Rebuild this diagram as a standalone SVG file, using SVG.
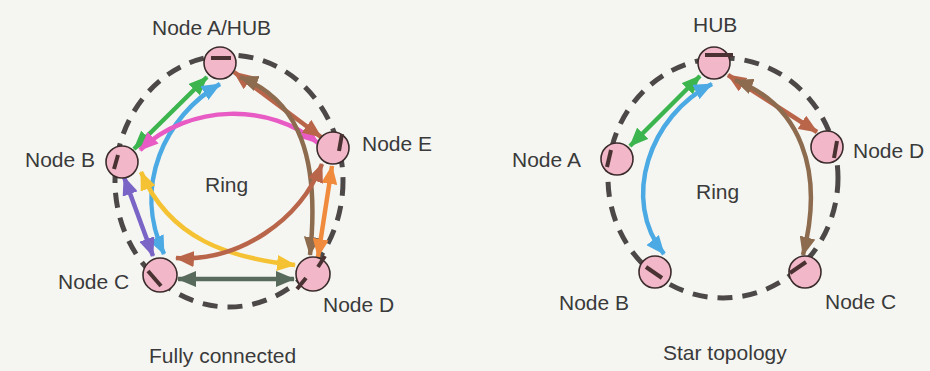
<svg xmlns="http://www.w3.org/2000/svg" width="930" height="371" viewBox="0 0 930 371">
<style>
.lbl{font-family:"Liberation Sans",Arial,sans-serif;font-size:21px;fill:#3a3a3a}
.ring{fill:none;stroke:#4d4848;stroke-width:5;stroke-dasharray:15 10}
.node{fill:#f2b8c9;stroke:#3b2c2c;stroke-width:1.6}
.mark{stroke:#4a3232;stroke-width:4;stroke-linecap:butt}
.c{fill:none;stroke-width:4.5}
</style>
<defs>
<marker id="mGreen" viewBox="0 0 19 16" refX="18" refY="8" markerWidth="19" markerHeight="16" markerUnits="userSpaceOnUse" orient="auto-start-reverse"><path d="M0,0 L19,8 L0,16 z" fill="#3cb54e"/></marker>
<marker id="mBlue" viewBox="0 0 19 16" refX="18" refY="8" markerWidth="19" markerHeight="16" markerUnits="userSpaceOnUse" orient="auto-start-reverse"><path d="M0,0 L19,8 L0,16 z" fill="#4ba9e3"/></marker>
<marker id="mPink" viewBox="0 0 19 16" refX="18" refY="8" markerWidth="19" markerHeight="16" markerUnits="userSpaceOnUse" orient="auto-start-reverse"><path d="M0,0 L19,8 L0,16 z" fill="#e95bc4"/></marker>
<marker id="mRust" viewBox="0 0 19 16" refX="18" refY="8" markerWidth="19" markerHeight="16" markerUnits="userSpaceOnUse" orient="auto-start-reverse"><path d="M0,0 L19,8 L0,16 z" fill="#b9654a"/></marker>
<marker id="mBrown" viewBox="0 0 19 16" refX="18" refY="8" markerWidth="19" markerHeight="16" markerUnits="userSpaceOnUse" orient="auto-start-reverse"><path d="M0,0 L19,8 L0,16 z" fill="#8d6b4e"/></marker>
<marker id="mOrange" viewBox="0 0 19 16" refX="18" refY="8" markerWidth="19" markerHeight="16" markerUnits="userSpaceOnUse" orient="auto-start-reverse"><path d="M0,0 L19,8 L0,16 z" fill="#f08a3c"/></marker>
<marker id="mPurple" viewBox="0 0 19 16" refX="18" refY="8" markerWidth="19" markerHeight="16" markerUnits="userSpaceOnUse" orient="auto-start-reverse"><path d="M0,0 L19,8 L0,16 z" fill="#7a64c6"/></marker>
<marker id="mYellow" viewBox="0 0 19 16" refX="18" refY="8" markerWidth="19" markerHeight="16" markerUnits="userSpaceOnUse" orient="auto-start-reverse"><path d="M0,0 L19,8 L0,16 z" fill="#f4c233"/></marker>
<marker id="mGray" viewBox="0 0 19 16" refX="18" refY="8" markerWidth="19" markerHeight="16" markerUnits="userSpaceOnUse" orient="auto-start-reverse"><path d="M0,0 L19,8 L0,16 z" fill="#586a5b"/></marker>
</defs>
<rect width="930" height="371" fill="#f5f6f2"/>

<g id="rings">
<ellipse class="ring" cx="229" cy="181" rx="114" ry="126"/>
<ellipse class="ring" cx="723" cy="178" rx="115" ry="120"/>
</g>

<g id="connectors">
<line class="c" x1="207" y1="77" x2="134" y2="149" stroke="#3cb54e" marker-start="url(#mGreen)" marker-end="url(#mGreen)"/>
<path class="c" d="M220,84 C165,116 132,186 164,254" stroke="#4ba9e3" marker-start="url(#mBlue)" marker-end="url(#mBlue)"/>
<path class="c" d="M140,150 C190,103 270,103 318,143" stroke="#e95bc4" marker-start="url(#mPink)" marker-end="url(#mPink)"/>
<line class="c" x1="234" y1="72" x2="321" y2="137" stroke="#b9654a" marker-start="url(#mRust)" marker-end="url(#mRust)"/>
<path class="c" d="M240,77 C300,100 320,160 310,255" stroke="#8d6b4e" marker-start="url(#mBrown)" marker-end="url(#mBrown)"/>
<line class="c" x1="332" y1="166" x2="318" y2="257" stroke="#f08a3c" marker-start="url(#mOrange)" marker-end="url(#mOrange)"/>
<line class="c" x1="124" y1="177" x2="153" y2="256" stroke="#7a64c6" marker-start="url(#mPurple)" marker-end="url(#mPurple)"/>
<path class="c" d="M141,172 C170,240 230,258 295,265" stroke="#f4c233" marker-start="url(#mYellow)" marker-end="url(#mYellow)"/>
<path class="c" d="M176,258 C240,262 300,220 322,164" stroke="#b9654a" marker-start="url(#mRust)" marker-end="url(#mRust)"/>
<line class="c" x1="178" y1="279" x2="294" y2="279" stroke="#586a5b" marker-start="url(#mGray)" marker-end="url(#mGray)"/>
<line class="c" x1="700" y1="76" x2="630" y2="146" stroke="#3cb54e" marker-start="url(#mGreen)" marker-end="url(#mGreen)"/>
<path class="c" d="M712,84 C650,115 620,200 664,254" stroke="#4ba9e3" marker-start="url(#mBlue)" marker-end="url(#mBlue)"/>
<line class="c" x1="728" y1="75" x2="817" y2="132" stroke="#b9654a" marker-start="url(#mRust)" marker-end="url(#mRust)"/>
<path class="c" d="M735,80 C800,105 825,170 803,255" stroke="#8d6b4e" marker-start="url(#mBrown)" marker-end="url(#mBrown)"/>
</g>

<g id="node-a-hub"><circle class="node" cx="220" cy="63" r="16"/><line class="mark" x1="211" y1="58" x2="231" y2="58"/><text class="lbl" x="152" y="35">Node A/HUB</text></g>
<g id="node-b"><circle class="node" cx="122" cy="162" r="16"/><line class="mark" x1="118" y1="155" x2="114" y2="169"/><text class="lbl" x="25" y="167">Node B</text></g>
<g id="node-e"><circle class="node" cx="333" cy="148" r="16"/><line class="mark" x1="342" y1="134" x2="339" y2="151"/><text class="lbl" x="362" y="151">Node E</text></g>
<g id="node-c"><circle class="node" cx="160" cy="275" r="17"/><line class="mark" x1="148" y1="271" x2="161" y2="286"/><text class="lbl" x="58" y="289">Node C</text></g>
<g id="node-d"><circle class="node" cx="313" cy="274" r="17"/><line class="mark" x1="325" y1="256" x2="318" y2="267"/><line class="mark" x1="306" y1="278" x2="297" y2="289"/><text class="lbl" x="323" y="312">Node D</text></g>
<text class="lbl" x="205" y="192">Ring</text>
<text class="lbl" x="149" y="363">Fully connected</text>

<g id="star-hub"><circle class="node" cx="714" cy="63" r="16"/><line class="mark" x1="705" y1="55" x2="733" y2="55"/><text class="lbl" x="693" y="32">HUB</text></g>
<g id="star-node-a"><circle class="node" cx="617" cy="159" r="16"/><line class="mark" x1="611" y1="150" x2="607" y2="167"/><text class="lbl" x="512" y="167">Node A</text></g>
<g id="star-node-d"><circle class="node" cx="827" cy="147" r="16"/><line class="mark" x1="837" y1="141" x2="834" y2="158"/><text class="lbl" x="853" y="158">Node D</text></g>
<g id="star-node-b"><circle class="node" cx="655" cy="272" r="16"/><line class="mark" x1="646" y1="267" x2="662" y2="278"/><text class="lbl" x="559" y="310">Node B</text></g>
<g id="star-node-c"><circle class="node" cx="805" cy="272" r="16"/><line class="mark" x1="790" y1="273" x2="806" y2="262"/><text class="lbl" x="825" y="309">Node C</text></g>
<text class="lbl" x="696" y="199">Ring</text>
<text class="lbl" x="663" y="360">Star topology</text>
</svg>
